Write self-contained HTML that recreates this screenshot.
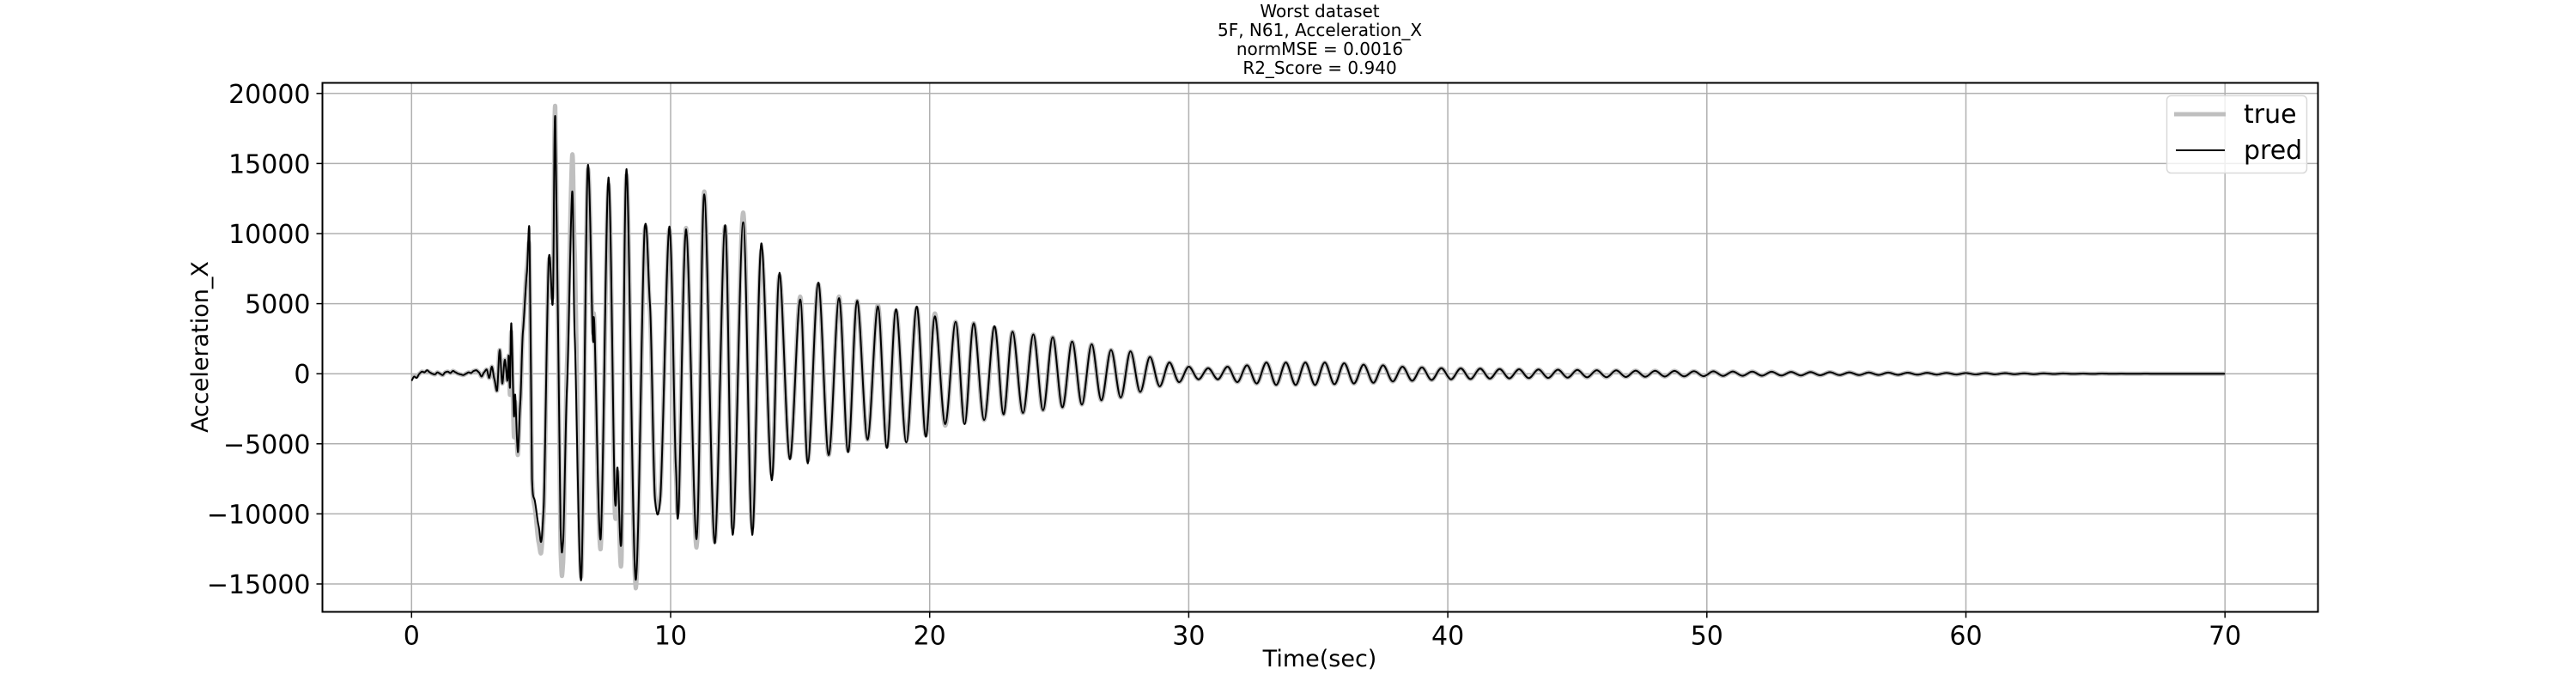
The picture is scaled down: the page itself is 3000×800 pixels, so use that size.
<!DOCTYPE html>
<html><head><meta charset="utf-8"><style>
html,body{margin:0;padding:0;background:#fff;}
svg{display:block;font-family:"DejaVu Sans","Liberation Sans",sans-serif;}
</style></head><body>
<svg id="chart" width="3000" height="800" viewBox="0 0 3000 800" xmlns="http://www.w3.org/2000/svg">
<rect width="3000" height="800" fill="#fff"/>
<g id="title" text-anchor="middle" font-size="20" fill="#000">
<text x="1537" y="20">Worst dataset</text>
<text x="1537" y="42">5F, N61, Acceleration_X</text>
<text x="1537" y="64">normMSE = 0.0016</text>
<text x="1537" y="86">R2_Score = 0.940</text>
</g>
<g id="grid"></g>
<g id="xticks"></g>
<g id="yticks"></g>
<g id="series"></g>
<rect x="375.5" y="96.5" width="2324" height="616" fill="none" stroke="#000" stroke-width="2"/>
<text x="1537" y="776" text-anchor="middle" font-size="27">Time(sec)</text>
<text transform="translate(242,404) rotate(-90)" text-anchor="middle" font-size="27">Acceleration_X</text>
<g>
<rect x="2523.5" y="111.5" width="163" height="90" rx="5" fill="#fff" fill-opacity="0.8" stroke="#d9d9d9" stroke-width="1.5"/>
<line x1="2532" y1="133" x2="2592" y2="133" stroke="#bfbfbf" stroke-width="5"/>
<text x="2613" y="143" font-size="30">true</text>
<line x1="2534" y1="175" x2="2591" y2="175" stroke="#000" stroke-width="2"/>
<text x="2613" y="185" font-size="30">pred</text>
</g>
</svg>
<script>
const xTicks=[0,10,20,30,40,50,60,70];
const yTicks=[-15000,-10000,-5000,0,5000,10000,15000,20000];
const yTickLabels=["\u221215000","\u221210000","\u22125000","0","5000","10000","15000","20000"];
// extremes (time s, value), strong-motion part
const predT=[
0,0.1,0.2,0.3,0.4,0.5,0.6,0.7,0.8,0.9,
1.0,1.1,1.2,1.3,1.4,1.5,1.6,1.7,1.8,1.9,
2.0,2.1,2.2,2.3,2.4,2.5,2.6,2.7,2.8,2.9,
3.0,3.1,3.2,3.3,3.4,3.5,3.6,3.7,3.75,3.8,
3.85,3.95,4.0,4.1,4.2,4.3,4.45,4.55,4.65,4.75,
4.9,5.0,5.1,5.3,5.45,5.55,5.75,5.85,6.0,6.2,
6.3,6.55,6.8,7.0,7.05,7.3,7.6,7.85,7.95,8.1,
8.3,8.65,9.0,9.2,9.4,9.6,9.95,10.2,10.3,10.6,
11.0,11.3,11.7,12.1,12.4,12.8,13.15,13.5,13.9,14.2,
14.6,15.0,15.3,15.7,16.1,16.5,16.85,17.2,17.6,18.0,
18.35,18.7,19.1,19.5,19.85,20.2,20.6,21.0,21.35,21.7,
22.1,22.5,22.85,23.2,23.6];
const predV=[
-500,-200,-300,0,150,100,250,100,0,-50,
100,0,-100,100,150,50,200,100,0,-50,
-100,0,100,50,200,250,100,-200,100,300,
-300,500,-400,-1200,1700,-700,1000,-500,1300,-1000,
3600,-3000,-1500,-5600,-2000,3000,7200,10300,-7500,-9000,
-10800,-12000,-9500,8300,5000,18300,-11000,-12000,-1000,13000,
2500,-14700,14800,2400,3800,-11800,14000,-9000,-6700,-12000,
14600,-14700,10400,5000,-9000,-9000,10500,-6500,-10000,10300,
-11800,12800,-12100,10600,-11500,10800,-11500,9300,-7600,7200,
-6100,5300,-6400,6500,-5800,5400,-5600,5200,-4700,4800,
-5300,4600,-4900,4800,-4500,4100,-3600,3700,-3600,3600,
-3300,3400,-2900,3000,-2800];
const trueT=predT;
const trueV=[
-300,-200,-200,0,150,100,200,100,0,-50,
100,0,-100,100,150,50,200,100,0,-50,
-100,0,100,50,200,250,100,-200,100,300,
-300,500,-400,-1200,1700,-700,1000,-500,1300,-1500,
3000,-4500,-2000,-5800,-2000,3000,7600,9000,-7500,-9500,
-12000,-12800,-10000,8000,5500,19000,-12500,-13500,700,15600,
8600,-14500,14500,3000,4000,-12500,13500,-10000,-7000,-13500,
14200,-15300,10200,4500,-8700,-8800,10300,-7000,-9500,10400,
-12400,13000,-12000,10500,-11000,11500,-11000,8800,-7200,7000,
-6000,5500,-6200,6400,-5800,5500,-5500,5200,-4700,4900,
-5200,4500,-4800,4700,-4400,4300,-3700,3700,-3500,3600,
-3300,3300,-2900,3000,-2800];
// tail extremes, one per half-cycle starting 24.0 s with 0.375 s spacing
const tailStart=24.0, tailStep=0.375;
const tailV=[2800,-2600,2600,-2400,2300,-2200,2100,-1900,1700,-1700,1600,-1300,1200,-900,800,-600,500,-400,400,-400,500,-600,600,-700,800,-800,800,-800,800,-800,800,-750,750,-700,650,-650,600,-550,500,-500,450,-450,400,-400,380,-380,360,-350,340,-330,320,-310,300,-300,290,-280,270,-260,250,-250,240,-230,220,-220,210,-200,200,-190,180,-180,170,-160,160,-150,150,-140,140,-130,130,-120,120,-110,110,-100,100,-95,90,-85,80,-80,75,-70,65,-60,60,-55,50,-50,45,-40,40,-35,30,-30,25,-20,20,-15,15,-10,10,-8,6,-4,3,0,0,0,0,0,0,0,0,0];

const L=375.5,R=2699.5,T=96.5,B=712.5;
const x=t=>479.3+t*30.17;
const y=v=>435.2-v*0.01632;
const NS="http://www.w3.org/2000/svg";
function mk(tag,attrs,parent){const e=document.createElementNS(NS,tag);for(const k in attrs)e.setAttribute(k,attrs[k]);parent.appendChild(e);return e;}
const grid=document.getElementById('grid'),xt=document.getElementById('xticks'),yt=document.getElementById('yticks');
xTicks.forEach(t=>{
  const g=mk('line',{x1:x(t),x2:x(t),y1:T,y2:B,stroke:'#b0b0b0','stroke-width':1.5},grid);
  
  
  mk('line',{x1:x(t),x2:x(t),y1:B,y2:B+7,stroke:'#000','stroke-width':1.5},xt);
  const tx=mk('text',{x:x(t),y:B+38,'text-anchor':'middle','font-size':30},xt);
  tx.textContent=t;
  
  
});
yTicks.forEach((v,i)=>{
  const g=mk('line',{x1:L,x2:R,y1:y(v),y2:y(v),stroke:'#b0b0b0','stroke-width':1.5},grid);
  
  
  mk('line',{x1:L-7,x2:L,y1:y(v),y2:y(v),stroke:'#000','stroke-width':1.5},yt);
  const tx=mk('text',{x:L-14,y:y(v)+11,'text-anchor':'end','font-size':30},yt);
  tx.textContent=yTickLabels[i];
  
  
});
function pts(ts,vs){const p=[];const n=Math.min(ts.length,vs.length);
  for(let i=0;i<n;i++)p.push([x(ts[i]),y(vs[i])]);
  for(let i=0;i<tailV.length;i++){const t=tailStart+i*tailStep;if(t>=70)break;p.push([x(t),y(tailV[i])]);}
  p.push([x(70),y(0)]);return p;}
function smooth(p){let d='M'+p[0][0].toFixed(1)+','+p[0][1].toFixed(1);
  for(let i=0;i<p.length-1;i++){const p0=p[i-1]||p[i],p1=p[i],p2=p[i+1],p3=p[i+2]||p2;
    const c1x=p1[0]+(p2[0]-p0[0])/6,c1y=p1[1]+(p2[1]-p0[1])/6*0.5;
    const c2x=p2[0]-(p3[0]-p1[0])/6,c2y=p2[1]-(p3[1]-p1[1])/6*0.5;
    d+=' C'+c1x.toFixed(1)+','+c1y.toFixed(1)+' '+c2x.toFixed(1)+','+c2y.toFixed(1)+' '+p2[0].toFixed(1)+','+p2[1].toFixed(1);}
  return d;}
const s=document.getElementById('series');
const tl=mk('path',{d:smooth(pts(trueT,trueV)),fill:'none',stroke:'#bfbfbf','stroke-width':5,'stroke-linejoin':'round'},s);


const pl=mk('path',{d:smooth(pts(predT,predV)),fill:'none',stroke:'#000','stroke-width':2,'stroke-linejoin':'round'},s);


</script>
</body></html>
